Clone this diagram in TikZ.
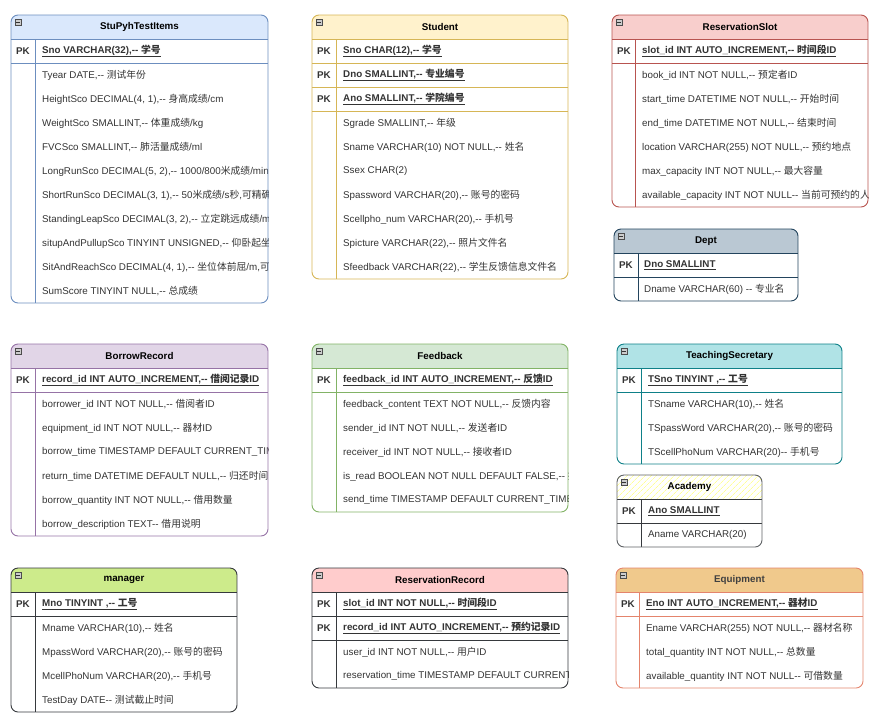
\documentclass[tikz,border=0pt]{standalone}
\usepackage{fontspec}
\setmainfont{Liberation Sans}[Ligatures=TeXOff]
\newfontfamily\zhfont{Noto Sans CJK SC}
\newcommand\zh[1]{{\zhfont #1}}
\usetikzlibrary{patterns.meta}
\definecolor{pyhfill}{HTML}{DAE8FC}\definecolor{pyhline}{HTML}{6C8EBF}
\definecolor{stdfill}{HTML}{FFF2CC}\definecolor{stdline}{HTML}{D6B656}
\definecolor{slotfill}{HTML}{F8CECC}\definecolor{slotline}{HTML}{B85450}
\definecolor{deptfill}{HTML}{BAC8D3}\definecolor{deptline}{HTML}{23445D}
\definecolor{borfill}{HTML}{E1D5E7}\definecolor{borline}{HTML}{9673A6}
\definecolor{fbfill}{HTML}{D5E8D4}\definecolor{fbline}{HTML}{82B366}
\definecolor{secfill}{HTML}{B0E3E6}\definecolor{secline}{HTML}{0E8088}
\definecolor{acadfill}{HTML}{FFFF99}\definecolor{darkline}{HTML}{36393D}
\definecolor{mgrfill}{HTML}{CDEB8B}
\definecolor{rrecfill}{HTML}{FFCCCC}
\definecolor{eqfill}{HTML}{F0C98C}\definecolor{eqline}{HTML}{E4846C}

\begin{document}
\begin{tikzpicture}[x=1pt,y=-1pt,
  every node/.style={font=\fontsize{9.8}{11}\selectfont,text=black!80},
  fld/.style={anchor=west,inner sep=0pt},
  keyfld/.style={anchor=west,inner sep=0pt,font=\fontsize{9.8}{11}\selectfont\bfseries},
  pk/.style={inner sep=0pt,font=\fontsize{9.8}{11}\selectfont\bfseries},
  title/.style={inner sep=0pt,font=\fontsize{9.8}{11}\selectfont\bfseries,text=black},
  frame/.style={rounded corners=7pt,line width=0.9pt},
  sep/.style={line width=0.8pt},
  collapse/.style={fill=gray!40,draw=gray!60!black,line width=0.5pt,
    path picture={\draw[black!80,line width=0.7pt]
      ([xshift=1.2pt]path picture bounding box.west) -- ([xshift=-1.2pt]path picture bounding box.east);}}]
\useasboundingbox (0,0) rectangle (878,726);

% StuPyhTestItems
\begin{scope}
  \clip[rounded corners=7pt] (11,15) rectangle (268,303);
  \fill[pyhfill] (11,15) rectangle (268,39);
  \draw[sep,pyhline] (11,39) -- (268,39) (11,63) -- (268,63) (35,39) -- (35,303);
  \node[pk] (pyh-pk) at (23,51) {PK};
  \node[keyfld] (pyh-sno) at (42,51) {\underline{Sno VARCHAR(32),-- \zh{学号}}};
  \foreach \t [count=\i] in {{Tyear DATE,-- \zh{测试年份}},
      {HeightSco DECIMAL(4, 1),-- \zh{身高成绩}/cm},
      {WeightSco SMALLINT,-- \zh{体重成绩}/kg},
      {FVCSco SMALLINT,-- \zh{肺活量成绩}/ml},
      {LongRunSco DECIMAL(5, 2),-- 1000/800\zh{米成绩}/min\zh{分}},
      {ShortRunSco DECIMAL(3, 1),-- 50\zh{米成绩}/s\zh{秒},\zh{可精确}},
      {StandingLeapSco DECIMAL(3, 2),-- \zh{立定跳远成绩}/m,},
      {situpAndPullupSco TINYINT UNSIGNED,-- \zh{仰卧起坐}/},
      {SitAndReachSco DECIMAL(4, 1),-- \zh{坐位体前屈}/m,\zh{可精}},
      {SumScore TINYINT NULL,-- \zh{总成绩}}}
    \node[fld] (pyh-\i) at (42,51+24*\i) {\t};
\end{scope}
\draw[frame,pyhline] (11,15) rectangle (268,303);
\node[title] (pyh) at (139.5,27) {StuPyhTestItems};
\draw[collapse] (15,19) rectangle (21,25);

% Student
\begin{scope}
  \clip[rounded corners=7pt] (312,15) rectangle (568,279);
  \fill[stdfill] (312,15) rectangle (568,39);
  \draw[sep,stdline] (312,39) -- (568,39) (312,63) -- (568,63) (312,87) -- (568,87)
    (312,111) -- (568,111) (336,39) -- (336,279);
  \foreach \t [count=\i] in {{Sno CHAR(12),-- \zh{学号}},{Dno SMALLINT,-- \zh{专业编号}},
      {Ano SMALLINT,-- \zh{学院编号}}}{
    \node[pk] (std-pk\i) at (324,27+24*\i) {PK};
    \node[keyfld] (std-key\i) at (343,27+24*\i) {\underline{\t}};
  }
  \foreach \t [count=\i] in {{Sgrade SMALLINT,-- \zh{年级}},
      {Sname VARCHAR(10) NOT NULL,-- \zh{姓名}},
      {Ssex CHAR(2)},
      {Spassword VARCHAR(20),-- \zh{账号的密码}},
      {Scellpho\_num VARCHAR(20),-- \zh{手机号}},
      {Spicture VARCHAR(22),-- \zh{照片文件名}},
      {Sfeedback VARCHAR(22),-- \zh{学生反馈信息文件名}}}
    \node[fld] (std-\i) at (343,99+24*\i) {\t};
\end{scope}
\draw[frame,stdline] (312,15) rectangle (568,279);
\node[title] (std) at (440,27) {Student};
\draw[collapse] (316,19) rectangle (322,25);

% ReservationSlot
\begin{scope}
  \clip[rounded corners=7pt] (612,15) rectangle (868,207);
  \fill[slotfill] (612,15) rectangle (868,39);
  \draw[sep,slotline] (612,39) -- (868,39) (612,63) -- (868,63) (635,39) -- (635,207);
  \node[pk] (slot-pk) at (624,51) {PK};
  \node[keyfld] (slot-id) at (642,51) {\underline{slot\_id INT AUTO\_INCREMENT,-- \zh{时间段}ID}};
  \foreach \t [count=\i] in {{book\_id INT NOT NULL,-- \zh{预定者}ID},
      {start\_time DATETIME NOT NULL,-- \zh{开始时间}},
      {end\_time DATETIME NOT NULL,-- \zh{结束时间}},
      {location VARCHAR(255) NOT NULL,-- \zh{预约地点}},
      {max\_capacity INT NOT NULL,-- \zh{最大容量}},
      {available\_capacity INT NOT NULL-- \zh{当前可预约的人数}}}
    \node[fld] (slot-\i) at (642,51+24*\i) {\t};
\end{scope}
\draw[frame,slotline] (612,15) rectangle (868,207);
\node[title] (slot) at (740,27) {ReservationSlot};
\draw[collapse] (616,19) rectangle (622,25);

% Dept
\begin{scope}
  \clip[rounded corners=7pt] (614,229) rectangle (798,301);
  \fill[deptfill] (614,229) rectangle (798,253);
  \draw[sep,deptline] (614,253) -- (798,253) (614,277) -- (798,277) (638,253) -- (638,301);
  \node[pk] (dept-pk) at (626,265) {PK};
  \node[keyfld] (dept-dno) at (644,265) {\underline{Dno SMALLINT}};
  \node[fld] (dept-dname) at (644,289) {Dname VARCHAR(60) -- \zh{专业名}};
\end{scope}
\draw[frame,deptline] (614,229) rectangle (798,301);
\node[title] (dept) at (706,241) {Dept};
\draw[collapse] (618,233) rectangle (624,239);

% BorrowRecord
\begin{scope}
  \clip[rounded corners=7pt] (11,344) rectangle (268,536);
  \fill[borfill] (11,344) rectangle (268,368);
  \draw[sep,borline] (11,368) -- (268,368) (11,392) -- (268,392) (35,368) -- (35,536);
  \node[pk] (bor-pk) at (23,380) {PK};
  \node[keyfld] (bor-id) at (42,380) {\underline{record\_id INT AUTO\_INCREMENT,-- \zh{借阅记录}ID}};
  \foreach \t [count=\i] in {{borrower\_id INT NOT NULL,-- \zh{借阅者}ID},
      {equipment\_id INT NOT NULL,-- \zh{器材}ID},
      {borrow\_time TIMESTAMP DEFAULT CURRENT\_TIM},
      {return\_time DATETIME DEFAULT NULL,-- \zh{归还时间}},
      {borrow\_quantity INT NOT NULL,-- \zh{借用数量}},
      {borrow\_description TEXT-- \zh{借用说明}}}
    \node[fld] (bor-\i) at (42,380+24*\i) {\t};
\end{scope}
\draw[frame,borline] (11,344) rectangle (268,536);
\node[title] (bor) at (139.5,356) {BorrowRecord};
\draw[collapse] (15,348) rectangle (21,354);

% Feedback
\begin{scope}
  \clip[rounded corners=7pt] (312,344) rectangle (568,512);
  \fill[fbfill] (312,344) rectangle (568,368);
  \draw[sep,fbline] (312,368) -- (568,368) (312,392) -- (568,392) (336,368) -- (336,512);
  \node[pk] (fb-pk) at (324,380) {PK};
  \node[keyfld] (fb-id) at (343,380) {\underline{feedback\_id INT AUTO\_INCREMENT,-- \zh{反馈}ID}};
  \foreach \t [count=\i] in {{feedback\_content TEXT NOT NULL,-- \zh{反馈内容}},
      {sender\_id INT NOT NULL,-- \zh{发送者}ID},
      {receiver\_id INT NOT NULL,-- \zh{接收者}ID},
      {is\_read BOOLEAN NOT NULL DEFAULT FALSE,-- \zh{接}},
      {send\_time TIMESTAMP DEFAULT CURRENT\_TIME}}
    \node[fld] (fb-\i) at (343,380+24*\i) {\t};
\end{scope}
\draw[frame,fbline] (312,344) rectangle (568,512);
\node[title] (fb) at (440,356) {Feedback};
\draw[collapse] (316,348) rectangle (322,354);

% TeachingSecretary
\begin{scope}
  \clip[rounded corners=7pt] (617,344) rectangle (842,464);
  \fill[secfill] (617,344) rectangle (842,368);
  \draw[sep,secline] (617,368) -- (842,368) (617,392) -- (842,392) (641,368) -- (641,464);
  \node[pk] (sec-pk) at (629,380) {PK};
  \node[keyfld] (sec-id) at (648,380) {\underline{TSno TINYINT ,-- \zh{工号}}};
  \foreach \t [count=\i] in {{TSname VARCHAR(10),-- \zh{姓名}},
      {TSpassWord VARCHAR(20),-- \zh{账号的密码}},
      {TScellPhoNum VARCHAR(20)-- \zh{手机号}}}
    \node[fld] (sec-\i) at (648,380+24*\i) {\t};
\end{scope}
\draw[frame,secline] (617,344) rectangle (842,464);
\node[title] (sec) at (729.5,356) {TeachingSecretary};
\draw[collapse] (621,348) rectangle (627,354);

% Academy
\begin{scope}
  \clip[rounded corners=7pt] (617,475) rectangle (762,547);
  \fill[pattern={Lines[angle=45,distance=4pt,line width=0.8pt]},pattern color=acadfill]
    (617,475) rectangle (762,499);
  \draw[sep,darkline] (617,499) -- (762,499) (617,523) -- (762,523) (641,499) -- (641,547);
  \node[pk] (acad-pk) at (629,511) {PK};
  \node[keyfld] (acad-ano) at (648,511) {\underline{Ano SMALLINT}};
  \node[fld] (acad-aname) at (648,535) {Aname VARCHAR(20)};
\end{scope}
\draw[frame,darkline!80] (617,475) rectangle (762,547);
\node[title] (acad) at (689.5,487) {Academy};
\draw[collapse] (621,479) rectangle (627,485);

% manager
\begin{scope}
  \clip[rounded corners=7pt] (11,568) rectangle (237,712);
  \fill[mgrfill] (11,568) rectangle (237,592);
  \draw[sep,darkline] (11,592) -- (237,592) (11,616) -- (237,616) (35,592) -- (35,712);
  \node[pk] (mgr-pk) at (23,604) {PK};
  \node[keyfld] (mgr-id) at (42,604) {\underline{Mno TINYINT ,-- \zh{工号}}};
  \foreach \t [count=\i] in {{Mname VARCHAR(10),-- \zh{姓名}},
      {MpassWord VARCHAR(20),-- \zh{账号的密码}},
      {McellPhoNum VARCHAR(20),-- \zh{手机号}},
      {TestDay DATE-- \zh{测试截止时间}}}
    \node[fld] (mgr-\i) at (42,604+24*\i) {\t};
\end{scope}
\draw[frame,darkline] (11,568) rectangle (237,712);
\node[title] (mgr) at (124,580) {manager};
\draw[collapse] (15,572) rectangle (21,578);

% ReservationRecord
\begin{scope}
  \clip[rounded corners=7pt] (312,568) rectangle (568,688);
  \fill[rrecfill] (312,568) rectangle (568,592);
  \draw[sep,darkline] (312,592) -- (568,592) (312,616) -- (568,616) (312,640) -- (568,640)
    (336,592) -- (336,688);
  \foreach \t [count=\i] in {{slot\_id INT NOT NULL,-- \zh{时间段}ID},
      {record\_id INT AUTO\_INCREMENT,-- \zh{预约记录}ID}}{
    \node[pk] (rrec-pk\i) at (324,580+24*\i) {PK};
    \node[keyfld] (rrec-key\i) at (343,580+24*\i) {\underline{\t}};
  }
  \foreach \t [count=\i] in {{user\_id INT NOT NULL,-- \zh{用户}ID},
      {reservation\_time TIMESTAMP DEFAULT CURRENT}}
    \node[fld] (rrec-\i) at (343,628+24*\i) {\t};
\end{scope}
\draw[frame,darkline] (312,568) rectangle (568,688);
\node[title] (rrec) at (440,580) {ReservationRecord};
\draw[collapse] (316,572) rectangle (322,578);

% Equipment
\begin{scope}
  \clip[rounded corners=7pt] (616,568) rectangle (863,688);
  \fill[eqfill] (616,568) rectangle (863,592);
  \draw[sep,eqline] (616,592) -- (863,592) (616,616) -- (863,616) (639,592) -- (639,688);
  \node[pk] (eq-pk) at (628,604) {PK};
  \node[keyfld] (eq-id) at (646,604) {\underline{Eno INT AUTO\_INCREMENT,-- \zh{器材}ID}};
  \foreach \t [count=\i] in {{Ename VARCHAR(255) NOT NULL,-- \zh{器材名称}},
      {total\_quantity INT NOT NULL,-- \zh{总数量}},
      {available\_quantity INT NOT NULL-- \zh{可借数量}}}
    \node[fld] (eq-\i) at (646,604+24*\i) {\t};
\end{scope}
\draw[frame,eqline] (616,568) rectangle (863,688);
\node[title,text=black!75] (eq) at (739.5,580) {Equipment};
\draw[collapse] (620,572) rectangle (626,578);
\end{tikzpicture}
\end{document}
